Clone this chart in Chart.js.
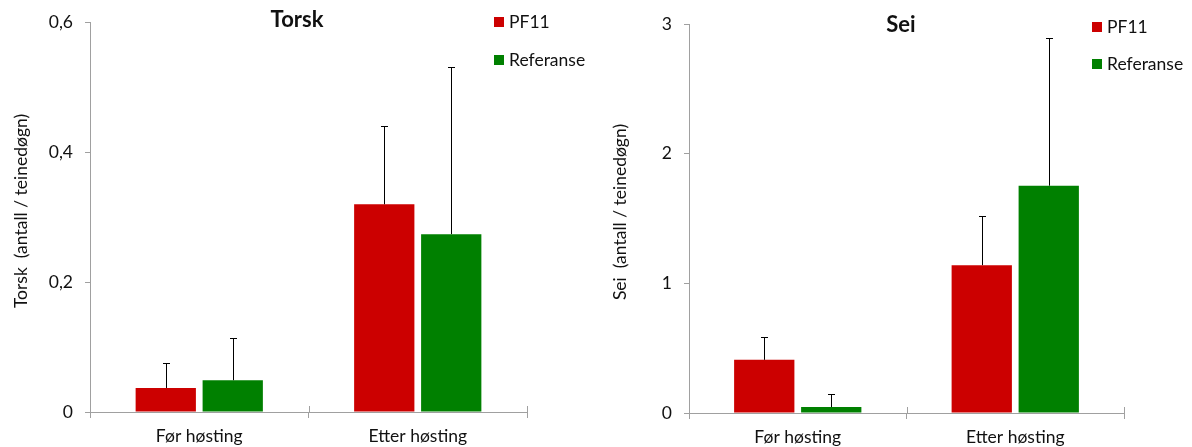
<!DOCTYPE html>
<html>
<head>
<meta charset="utf-8">
<script src="https://cdn.jsdelivr.net/npm/chart.js@4.4.1/dist/chart.umd.min.js"></script>
<style>
  html, body { margin: 0; padding: 0; background: #fff; }
  #wrap { position: relative; width: 1192px; height: 447px; overflow: hidden; }
  canvas { position: absolute; top: 0; }
  #c1 { left: 0; }
  #c2 { left: 596px; }
</style>
</head>
<body>
<div id="wrap">
  <canvas id="c1" width="596" height="447"></canvas>
  <canvas id="c2" width="596" height="447"></canvas>
</div>
<script>
// Categories and series
const categories = ['Før høsting', 'Etter høsting'];
const seriesNames = ['PF11', 'Referanse'];
const seriesColors = ['#cc0000', '#008000'];

// Torsk: mean catch per trap-day and upper error (SD)
const torskPF11 = [0.037, 0.32];
const torskPF11Err = [0.039, 0.12];
const torskRef = [0.049, 0.274];
const torskRefErr = [0.065, 0.257];
const torskTicks = ['0', '0,2', '0,4', '0,6'];

// Sei
const seiPF11 = [0.41, 1.14];
const seiPF11Err = [0.176, 0.376];
const seiRef = [0.046, 1.753];
const seiRefErr = [0.101, 1.141];
const seiTicks = ['0', '1', '2', '3'];

const FONT = "Lato, 'Carlito', 'Liberation Sans', sans-serif";
const TEXT = '#111';
const AXIS = '#a0a0a0';

// Upward error bars, extra inner tick marks on the x axis, title, legend and y-axis title
const decorations = {
  id: 'decorations',
  afterDatasetsDraw(chart, args, opts) {
    const ctx = chart.ctx;
    const y = chart.scales.y;
    const x = chart.scales.x;
    ctx.save();
    // error bars
    ctx.strokeStyle = '#000';
    ctx.lineWidth = 1;
    chart.data.datasets.forEach((ds, i) => {
      const meta = chart.getDatasetMeta(i);
      meta.data.forEach((bar, j) => {
        const px = Math.round(bar.x) + 0.5;
        const y0 = y.getPixelForValue(ds.data[j]);
        const y1 = Math.round(y.getPixelForValue(ds.data[j] + ds.errors[j])) + 0.5;
        ctx.beginPath();
        ctx.moveTo(px, y0);
        ctx.lineTo(px, y1);
        ctx.moveTo(px - 3.5, y1);
        ctx.lineTo(px + 3.5, y1);
        ctx.stroke();
      });
    });
    // x tick marks crossing the axis
    ctx.strokeStyle = AXIS;
    const half = (x.getPixelForValue(1) - x.getPixelForValue(0)) / 2;
    const edges = [x.getPixelForValue(0) - half, x.getPixelForValue(0) + half, x.getPixelForValue(1) + half];
    edges.forEach(ex => {
      const xx = Math.round(ex) + 0.5;
      ctx.beginPath();
      ctx.moveTo(xx, chart.chartArea.bottom - 6);
      ctx.lineTo(xx, chart.chartArea.bottom);
      ctx.stroke();
    });
    // title
    ctx.fillStyle = TEXT;
    ctx.font = "bold 22px " + FONT;
    ctx.textAlign = 'center';
    ctx.textBaseline = 'middle';
    ctx.fillText(opts.title, opts.titleX, opts.titleY);
    // legend
    ctx.font = "17.5px " + FONT;
    ctx.textAlign = 'left';
    chart.data.datasets.forEach((ds, i) => {
      const ly = opts.legendY[i];
      ctx.fillStyle = ds.backgroundColor;
      ctx.fillRect(opts.legendX, ly - 5, 10, 10);
      ctx.fillStyle = TEXT;
      ctx.fillText(ds.label, opts.legendX + 15, ly);
    });
    // y-axis title
    ctx.translate(opts.axisTitleX, opts.axisTitleY);
    ctx.rotate(-Math.PI / 2);
    ctx.textAlign = 'center';
    ctx.font = "17.5px " + FONT;
    ctx.fillText(opts.axisTitle, 0, 0);
    ctx.restore();
  }
};

function makeChart(id, series, errs, ticks, maxY, stepY, area, deco) {
  const W = 596, H = 447;
  return new Chart(document.getElementById(id), {
    type: 'bar',
    data: {
      labels: categories,
      datasets: series.map((s, i) => ({
        label: seriesNames[i],
        data: s,
        errors: errs[i],
        backgroundColor: seriesColors[i],
        borderWidth: 0,
        categoryPercentage: area.catPct,
        barPercentage: 0.9
      }))
    },
    options: {
      responsive: false,
      animation: false,
      devicePixelRatio: 1,
      layout: { padding: { left: 0, top: area.top, right: W - area.right, bottom: 0 } },
      plugins: {
        legend: { display: false },
        title: { display: false },
        tooltip: { enabled: false },
        decorations: deco
      },
      scales: {
        x: {
          afterFit: s => { s.height = H - area.bottom; },
          grid: { display: true, drawOnChartArea: false, offset: true, tickLength: 6, color: AXIS },
          border: { display: true, color: AXIS, width: 1 },
          ticks: { color: TEXT, font: { family: FONT, size: 17.5 }, padding: 8, maxRotation: 0 }
        },
        y: {
          min: 0, max: maxY,
          afterFit: s => { s.width = area.left; },
          grid: { display: true, drawOnChartArea: false, tickLength: 5, color: AXIS },
          border: { display: true, color: AXIS, width: 1 },
          ticks: {
            stepSize: stepY,
            color: TEXT,
            font: { family: FONT, size: 17.5 },
            padding: 12,
            callback: (v, i) => ticks[i]
          }
        }
      }
    },
    plugins: [decorations]
  });
}

makeChart('c1', [torskPF11, torskRef], [torskPF11Err, torskRefErr], torskTicks, 0.6, 0.2,
  { left: 90, right: 527, top: 19, bottom: 412, catPct: 0.613 },
  { title: 'Torsk', titleX: 297, titleY: 20, legendX: 494, legendY: [22, 60],
    axisTitle: 'Torsk  (antall / teinedøgn)', axisTitleX: 21, axisTitleY: 211 });

makeChart('c2', [seiPF11, seiRef], [seiPF11Err, seiRefErr], seiTicks, 3, 1,
  { left: 93, right: 528, top: 24, bottom: 413, catPct: 0.616 },
  { title: 'Sei', titleX: 305, titleY: 25, legendX: 496, legendY: [27, 64],
    axisTitle: 'Sei  (antall / teinedøgn)', axisTitleX: 24, axisTitleY: 212 });
</script>
</body>
</html>
